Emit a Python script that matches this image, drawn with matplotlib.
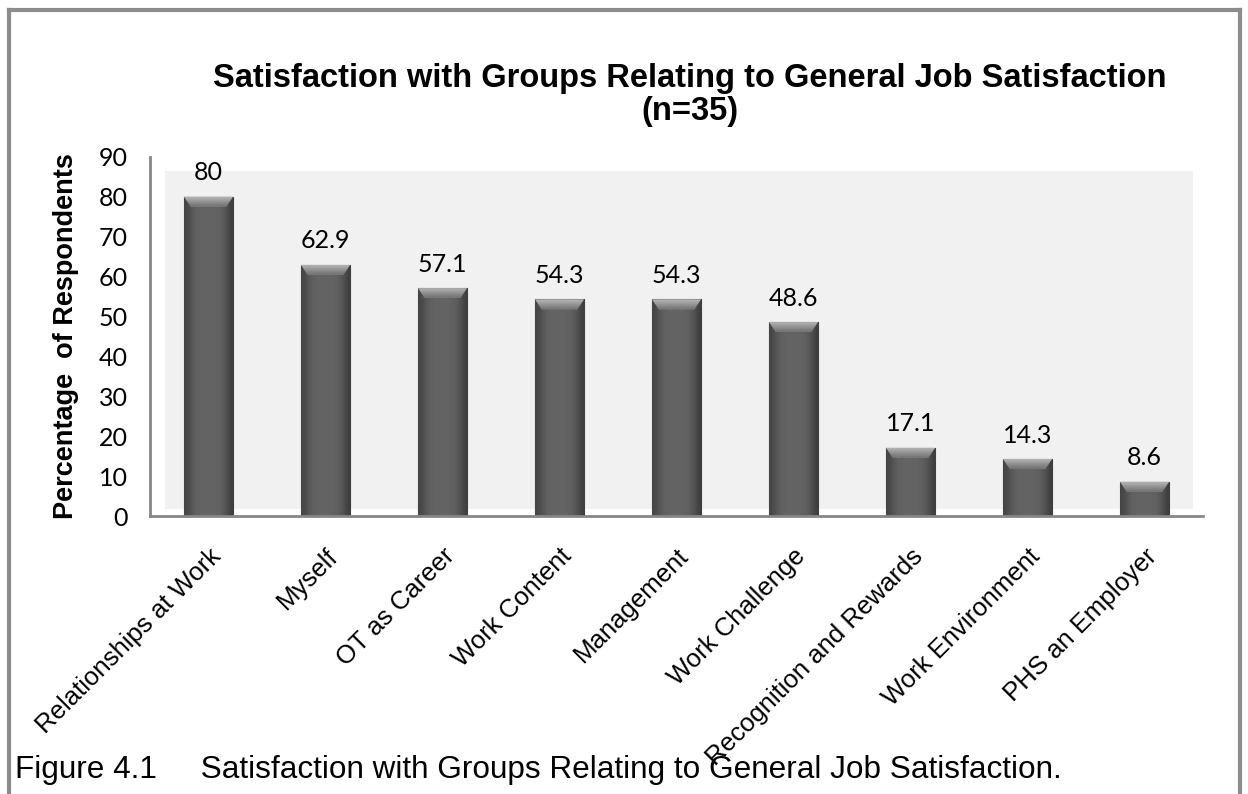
import matplotlib.pyplot as plt
import numpy as np
from matplotlib.patches import Rectangle, Polygon
from matplotlib.lines import Line2D

categories = ['Relationships at Work', 'Myself', 'OT as Career', 'Work Content',
              'Management', 'Work Challenge', 'Recognition and Rewards',
              'Work Environment', 'PHS an Employer']
values = [80, 62.9, 57.1, 54.3, 54.3, 48.6, 17.1, 14.3, 8.6]
value_labels = ['80', '62.9', '57.1', '54.3', '54.3', '48.6', '17.1', '14.3', '8.6']
yticks = [0, 10, 20, 30, 40, 50, 60, 70, 80, 90]

ARIAL = 'Liberation Sans'
CALIBRI = 'Lato'

fig = plt.figure(figsize=(12.48, 7.94), dpi=100)
ax = fig.add_axes([0.1202, 0.350, 0.8438, 0.4526])

x = np.arange(len(categories))
width = 0.42

# light plot-area panel behind the bars
ax.add_patch(Rectangle((0.014, 0.02), 0.976, 0.94, transform=ax.transAxes,
                       facecolor='#f1f1f1', edgecolor='none', zorder=0))

bars = ax.bar(x, values, width=width, color='#5c5c5c', edgecolor='#4a4a4a',
              linewidth=0.8, zorder=2)

# horizontal shading so the bars look bevelled
grad = np.array([[0.27, 0.34, 0.38, 0.39, 0.39, 0.39, 0.39, 0.37, 0.32, 0.24]])
vgrad = np.array([[0.70], [0.62], [0.54], [0.46]])
bevel = 2.6
for b in bars:
    x0, w, h = b.get_x(), b.get_width(), b.get_height()
    im = ax.imshow(grad, cmap='gray', vmin=0, vmax=1, aspect='auto',
                   extent=(x0, x0 + w, 0, h), zorder=2, interpolation='bicubic')
    im.set_clip_path(b)
    # top bevel as a lighter trapezoid
    trap = Polygon([(x0, h), (x0 + w, h), (x0 + w * 0.86, h - bevel),
                    (x0 + w * 0.14, h - bevel)], closed=True,
                   facecolor='none', edgecolor='none', zorder=3)
    ax.add_patch(trap)
    im2 = ax.imshow(vgrad, cmap='gray', vmin=0, vmax=1, aspect='auto',
                    extent=(x0, x0 + w, h - bevel, h), zorder=3,
                    interpolation='bicubic')
    im2.set_clip_path(trap)

for xi, v, lab in zip(x, values, value_labels):
    ax.annotate(lab, (xi, v), xytext=(0, 9), textcoords='offset points',
                ha='center', va='bottom', fontsize=18, family=CALIBRI, zorder=4)

ax.set_xlim(-0.5, len(categories) - 0.5)
ax.set_ylim(0, 90)
ax.set_yticks(yticks)
ax.set_yticklabels([str(t) for t in yticks], fontsize=18, family=CALIBRI)
ax.set_xticks(x)
ax.set_xticklabels(categories, rotation=45, ha='right', va='top',
                   rotation_mode='anchor', fontsize=18.5, family=ARIAL)
ax.tick_params(axis='y', length=0, pad=16)
ax.tick_params(axis='x', length=0, pad=20)

for s in ['top', 'right']:
    ax.spines[s].set_visible(False)
ax.spines['left'].set_color('#868686')
ax.spines['bottom'].set_color('#868686')
ax.spines['left'].set_linewidth(2)
ax.spines['bottom'].set_linewidth(2)
ax.set_facecolor('none')

ax.set_ylabel('Percentage  of Respondents', fontsize=19.5, fontweight='bold',
              family=ARIAL, labelpad=14)

fig.text(0.553, 0.901, 'Satisfaction with Groups Relating to General Job Satisfaction',
         ha='center', va='center', fontsize=23.5, fontweight='bold', family=ARIAL)
fig.text(0.553, 0.859, '(n=35)', ha='center', va='center', fontsize=23.5,
         fontweight='bold', family=ARIAL)

fig.text(0.012, 0.030, 'Figure 4.1     Satisfaction with Groups Relating to General Job Satisfaction.',
         ha='left', va='center', fontsize=22.7, family=ARIAL)

# outer frame of the chart object
frame_kw = dict(color='#8c8c8c', linewidth=3, transform=fig.transFigure)
fig.add_artist(Line2D([0.0075, 0.0075], [0.0, 0.987], **frame_kw))
fig.add_artist(Line2D([0.0075, 0.9935], [0.987, 0.987], **frame_kw))
fig.add_artist(Line2D([0.9935, 0.9935], [0.0, 0.987], **frame_kw))

fig.savefig('out.png', dpi=100)
